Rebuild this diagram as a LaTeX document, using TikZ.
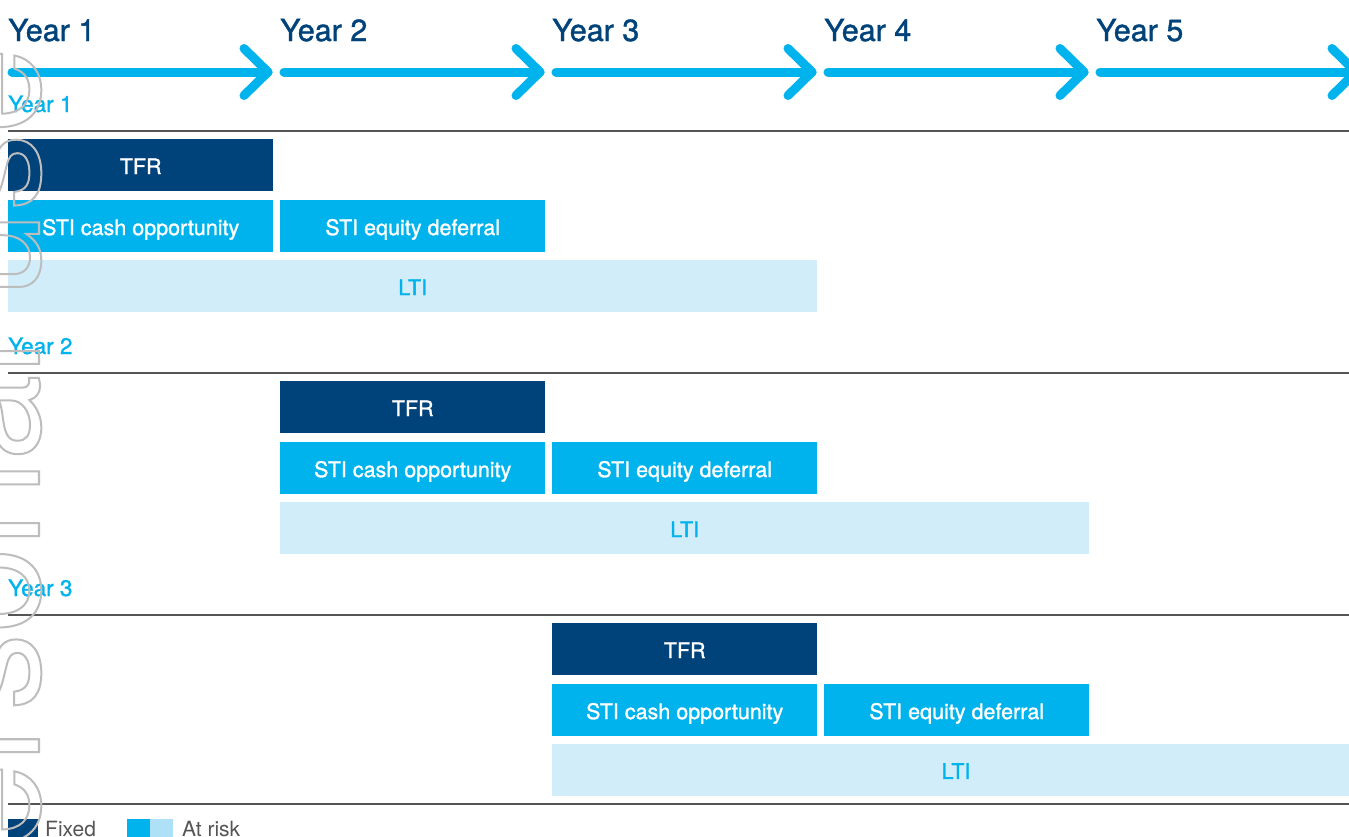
\documentclass[tikz,border=0pt]{standalone}
\usepackage{fontspec}
\setmainfont{TeX Gyre Heros}
\newfontfamily\medfont[FakeBold=1.2]{TeX Gyre Heros}
\definecolor{navy}{HTML}{00427A}
\definecolor{sky}{HTML}{00B3ED}
\definecolor{pale}{HTML}{D0EDF9}
\definecolor{paleleg}{HTML}{AEE0F8}
\definecolor{rulegray}{HTML}{555555}
\definecolor{wmgray}{HTML}{BDBDBD}
\newcommand{\outlinetext}[1]{\special{pdf:literal direct 1 Tr 2 w}#1\special{pdf:literal direct 0 Tr}}
\tikzset{
  bar/.style={rectangle, inner sep=0pt, minimum width=265pt, minimum height=52pt, anchor=north west,
    font=\medfont\fontsize{21.5}{24}\selectfont, text=white, text height=17.8pt, text depth=0pt},
  tfrbox/.style={bar, fill=navy},
  stibox/.style={bar, fill=sky},
  ltibox/.style={bar, fill=pale, text=sky},
  toplabel/.style={anchor=base west, inner sep=0pt, text=navy, font=\medfont\fontsize{30.5}{34}\selectfont},
  sublabel/.style={anchor=base west, inner sep=0pt, text=sky, font=\medfont\fontsize{22.5}{26}\selectfont},
  timeline/.style={draw=sky, line width=9pt, line cap=round, line join=round},
  sectionrule/.style={draw=rulegray, line width=1.3pt},
  legtext/.style={anchor=base west, inner sep=0pt, text=rulegray, font=\fontsize{21}{24}\selectfont},
}
\begin{document}
\begin{tikzpicture}[x=1pt, y=-1pt]
\useasboundingbox (0,0) rectangle (1349,836);
\fill[white] (0,0) rectangle (1349,836);

% top timeline
\foreach \k/\lab in {0/Year 1,1/Year 2,2/Year 3,3/Year 4,4/Year 5}{
  \pgfmathsetmacro{\xo}{272*\k}
  \node[toplabel] (top\k) at (8+\xo,41) {\lab};
  \coordinate (as\k) at (12+\xo,72);
  \coordinate (at\k) at (268+\xo,72);
  \coordinate (au\k) at (244+\xo,48.5);
  \coordinate (ad\k) at (244+\xo,95.5);
  \draw[timeline] (as\k) -- (at\k);
  \draw[timeline] (au\k) -- (at\k) -- (ad\k);
}

% sections
\foreach \s/\lab in {0/Year 1,1/Year 2,2/Year 3}{
  \pgfmathsetmacro{\yo}{242*\s}
  \pgfmathsetmacro{\xo}{272*\s}
  \node[sublabel] (sec\s) at (8,112+\yo) {\lab};
  \coordinate (rl\s) at (8,131+\yo);
  \coordinate (rr\s) at (1349,131+\yo);
  \draw[sectionrule] (rl\s) -- (rr\s);
  \node[tfrbox] (tfr\s) at (8+\xo,139+\yo) {TFR};
  \node[stibox] (cash\s) at (8+\xo,200+\yo) {STI cash opportunity};
  \node[stibox] (eq\s) at (280+\xo,200+\yo) {STI equity deferral};
  \node[ltibox, minimum width=809pt] (lti\s) at (8+\xo,260+\yo) {};
}
\node[bar, anchor=center, text=sky] at (lti0.center) {LTI};
\node[bar, anchor=center, text=sky] at (lti1.center) {LTI};
\node[bar, anchor=center, text=sky] at (956,770) {LTI};

% bottom rule
\coordinate (bl) at (8,804);
\coordinate (br) at (1349,804);
\draw[sectionrule] (bl) -- (br);

% legend
\fill[navy] (8,819) rectangle (38,845);
\node[legtext] (fixed) at (45,836) {Fixed};
\fill[sky] (127,819) rectangle (150,845);
\fill[paleleg] (150,819) rectangle (173,845);
\node[legtext] (atrisk) at (182,836) {At risk};

% watermark
\node[rotate=90, anchor=base west, inner sep=0pt, text=wmgray,
  font=\fontsize{155}{160}\selectfont] (wm) at (39,1208)
  {\outlinetext{For personal use only}};
\end{tikzpicture}
\end{document}
